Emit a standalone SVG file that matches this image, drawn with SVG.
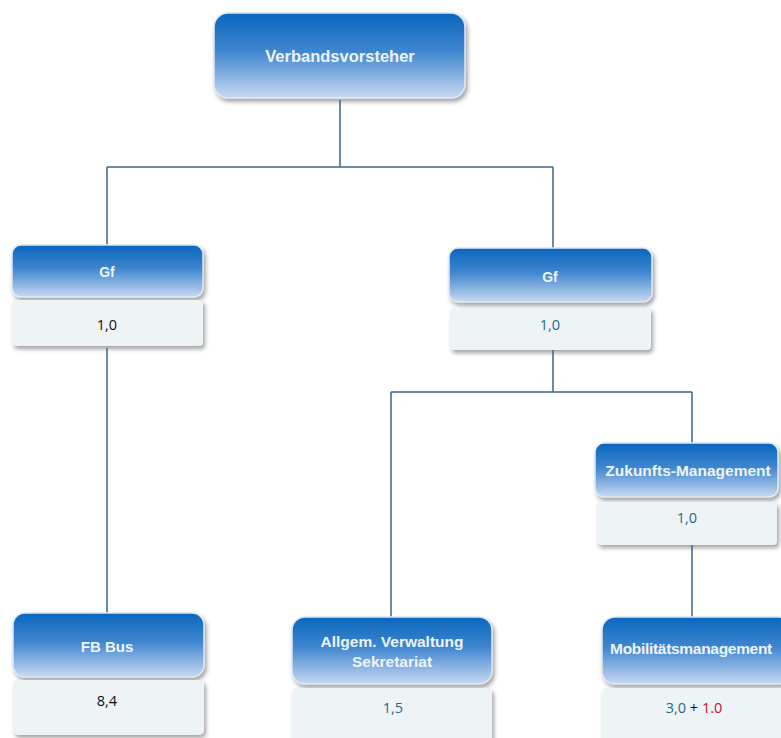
<svg xmlns="http://www.w3.org/2000/svg" width="781" height="738" viewBox="0 0 781 738">
<defs>
<linearGradient id="hg" x1="0" y1="0" x2="0" y2="1">
<stop offset="0" stop-color="#0a66bd"/>
<stop offset="0.45" stop-color="#3f86cf"/>
<stop offset="1" stop-color="#c9d9f1"/>
</linearGradient>
<filter id="sh" x="-10%" y="-10%" width="125%" height="135%">
<feDropShadow dx="2" dy="3" stdDeviation="2" flood-color="#555" flood-opacity="0.55"/>
</filter>
</defs>
<style>
.hd{fill:url(#hg);stroke:#dfe8f4;stroke-width:1.5;filter:url(#sh)}
.bd{fill:#eef3f6;filter:url(#sh)}
.ht{font-family:"Liberation Sans",Arial,sans-serif;font-weight:bold;fill:#eef4fb;text-anchor:middle}
.bt{font-family:"Open Sans","Liberation Sans",sans-serif;font-size:14.5px;text-anchor:middle}
.tb{fill:#1d6a8c}
.k{fill:#111}
.cn{fill:none;stroke:#3f6390;stroke-width:1.5}
</style>
<g id="connectors">
<path class="cn" d="M340,100 V167 M107,167 H553 M107,167 V245 M553,167 V248"/>
<path class="cn" d="M107,348 V613"/>
<path class="cn" d="M553,350 V392 M391,392 H692 M391,392 V617 M692,392 V443"/>
<path class="cn" d="M692,545 V617"/>
</g>
<g id="n-verbandsvorsteher">
<rect class="hd" x="214" y="13" width="251" height="85" rx="14"/>
<text class="ht" x="340" y="62" font-size="16.5">Verbandsvorsteher</text>
</g>
<g id="n-gf-left">
<rect class="hd" x="12" y="245" width="191" height="52" rx="9"/>
<text class="ht" x="107" y="277" font-size="14">Gf</text>
<rect class="bd" x="12" y="300" width="191" height="46" rx="4"/>
<text class="bt k" x="107" y="330">1,0</text>
</g>
<g id="n-gf-right">
<rect class="hd" x="449" y="248" width="203" height="54" rx="9"/>
<text class="ht" x="550" y="282" font-size="14">Gf</text>
<rect class="bd" x="450" y="308" width="201" height="42" rx="4"/>
<text class="bt tb" x="550" y="330">1,0</text>
</g>
<g id="n-zukunfts">
<rect class="hd" x="595" y="443" width="183" height="54" rx="9"/>
<text class="ht" x="688" y="476" font-size="15.5">Zukunfts-Management</text>
<rect class="bd" x="597" y="502" width="180" height="43" rx="4"/>
<text class="bt tb" x="687" y="523">1,0</text>
</g>
<g id="n-fbbus">
<rect class="hd" x="13" y="613" width="191" height="64" rx="12"/>
<text class="ht" x="107" y="652" font-size="15">FB Bus</text>
<rect class="bd" x="13" y="680" width="191" height="55" rx="5"/>
<text class="bt k" x="107" y="706">8,4</text>
</g>
<g id="n-allgem">
<rect class="hd" x="292" y="617" width="200" height="67" rx="13"/>
<text class="ht" x="392" y="647" font-size="15.5">Allgem. Verwaltung</text>
<text class="ht" x="392" y="667" font-size="15.5">Sekretariat</text>
<rect class="bd" x="292" y="688" width="200" height="60" rx="5"/>
<text class="bt tb" x="393" y="713">1,5</text>
</g>
<g id="n-mobil">
<rect class="hd" x="602" y="617" width="190" height="67" rx="13"/>
<text class="ht" x="691" y="654" font-size="15.5" letter-spacing="-0.3">Mobilitätsmanagement</text>
<rect class="bd" x="602" y="688" width="190" height="60" rx="5"/>
<text class="bt" x="694" y="713"><tspan class="tb">3,0</tspan><tspan class="k"> + </tspan><tspan fill="#c8102e">1.0</tspan></text>
</g>
</svg>
